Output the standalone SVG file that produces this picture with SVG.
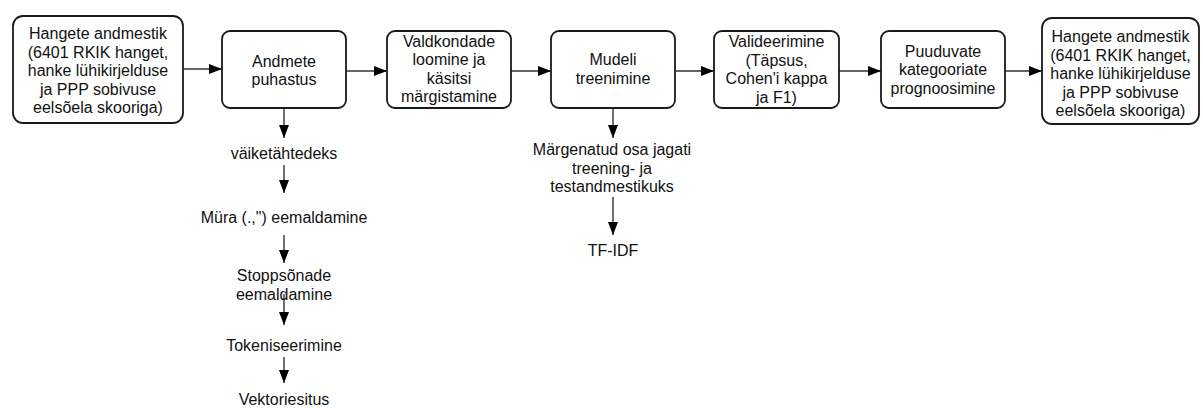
<svg xmlns="http://www.w3.org/2000/svg" width="1203" height="408" viewBox="0 0 1203 408">
<style>
.box{fill:#fff;stroke:#1a1a1a;stroke-width:1.8}
.t{font-family:"Liberation Sans",Arial,sans-serif;font-size:16px;fill:#111;text-anchor:middle}
.c{stroke:#333;stroke-width:1.4;fill:none;marker-end:url(#ah)}
</style>
<defs>
<marker id="ah" markerUnits="userSpaceOnUse" markerWidth="14" markerHeight="11" refX="13" refY="5" orient="auto">
<path d="M0,0 L13,5 L0,10 z" fill="#000"/>
</marker>
</defs>
<rect width="1203" height="408" fill="#fff"/>
<g id="connectors">
<line class="c" x1="184" y1="69" x2="222" y2="69"/>
<line class="c" x1="346" y1="71" x2="387" y2="71"/>
<line class="c" x1="511" y1="71" x2="551" y2="71"/>
<line class="c" x1="675" y1="71" x2="714" y2="71"/>
<line class="c" x1="839" y1="71" x2="881" y2="71"/>
<line class="c" x1="1005" y1="71" x2="1042" y2="71"/>
<line class="c" x1="284" y1="109" x2="284" y2="138"/>
<line class="c" x1="284" y1="165" x2="284" y2="193"/>
<line class="c" x1="284" y1="235" x2="284" y2="263"/>
<line class="c" x1="284" y1="294" x2="284" y2="325"/>
<line class="c" x1="284" y1="357" x2="284" y2="383"/>
<line class="c" x1="613" y1="109" x2="613" y2="138"/>
<line class="c" x1="613" y1="197" x2="613" y2="235"/>
</g>
<g id="n1">
<rect class="box" x="13" y="16" width="170" height="107" rx="10"/>
<text class="t" x="98"><tspan x="98" y="39">Hangete andmestik</tspan><tspan x="98" y="57.5">(6401 RKIK hanget,</tspan><tspan x="98" y="76">hanke lühikirjelduse</tspan><tspan x="98" y="94.5">ja PPP sobivuse</tspan><tspan x="98" y="113">eelsõela skooriga)</tspan></text>
</g>
<g id="n2">
<rect class="box" x="222" y="31" width="124" height="77" rx="8"/>
<text class="t"><tspan x="284" y="66.5">Andmete</tspan><tspan x="284" y="85">puhastus</tspan></text>
</g>
<g id="n3">
<rect class="box" x="387" y="31" width="124" height="77" rx="8"/>
<text class="t"><tspan x="449" y="46.5">Valdkondade</tspan><tspan x="449" y="65">loomine ja</tspan><tspan x="449" y="83.5">käsitsi</tspan><tspan x="449" y="102">märgistamine</tspan></text>
</g>
<g id="n4">
<rect class="box" x="551" y="31" width="124" height="77" rx="8"/>
<text class="t"><tspan x="613" y="65">Mudeli</tspan><tspan x="613" y="83.5">treenimine</tspan></text>
</g>
<g id="n5">
<rect class="box" x="714" y="31" width="125" height="77" rx="8"/>
<text class="t"><tspan x="776.5" y="47">Valideerimine</tspan><tspan x="776.5" y="65.5">(Täpsus,</tspan><tspan x="776.5" y="84">Cohen'i kappa</tspan><tspan x="776.5" y="102.5">ja F1)</tspan></text>
</g>
<g id="n6">
<rect class="box" x="881" y="31" width="124" height="77" rx="8"/>
<text class="t"><tspan x="943" y="56.5">Puuduvate</tspan><tspan x="943" y="75">kategooriate</tspan><tspan x="943" y="93.5">prognoosimine</tspan></text>
</g>
<g id="n7">
<rect class="box" x="1042" y="18" width="157" height="106" rx="10"/>
<text class="t"><tspan x="1120.5" y="42">Hangete andmestik</tspan><tspan x="1120.5" y="60.5">(6401 RKIK hanget,</tspan><tspan x="1120.5" y="79">hanke lühikirjelduse</tspan><tspan x="1120.5" y="97.5">ja PPP sobivuse</tspan><tspan x="1120.5" y="116">eelsõela skooriga)</tspan></text>
</g>
<g id="s1"><text class="t" x="284" y="159">väiketähtedeks</text></g>
<g id="s2"><text class="t" x="284" y="223">Müra (.,") eemaldamine</text></g>
<g id="s3"><text class="t"><tspan x="284" y="281">Stoppsõnade</tspan><tspan x="284" y="299.5">eemaldamine</tspan></text></g>
<g id="s4"><text class="t" x="284" y="351">Tokeniseerimine</text></g>
<g id="s5"><text class="t" x="284" y="405">Vektoriesitus</text></g>
<g id="m1"><text class="t"><tspan x="612" y="155">Märgenatud osa jagati</tspan><tspan x="612" y="173.5">treening- ja</tspan><tspan x="612" y="192">testandmestikuks</tspan></text></g>
<g id="m2"><text class="t" x="613" y="256">TF-IDF</text></g>
</svg>
